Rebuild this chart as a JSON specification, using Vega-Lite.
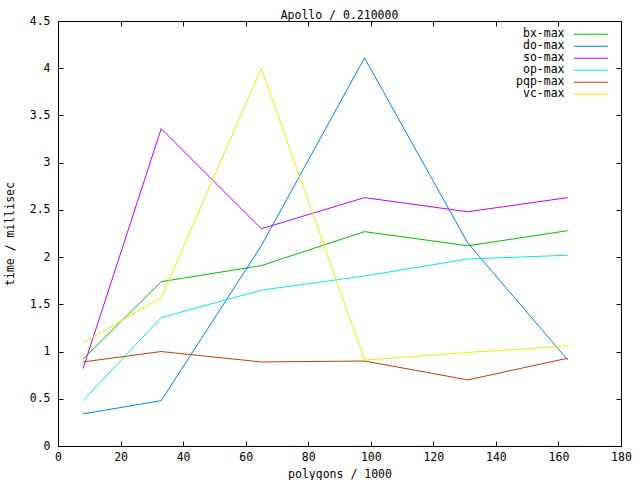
{
  "$schema": "https://vega.github.io/schema/vega-lite/v6.json",
  "width": 563,
  "height": 425,
  "autosize": {"type": "none"},
  "padding": {"left": 58, "top": 21, "right": 19, "bottom": 34},
  "background": "white",
  "config": {
    "font": "DejaVu Sans Mono",
    "view": {"stroke": "black", "strokeWidth": 1},
    "axis": {
      "grid": false,
      "domain": false,
      "offset": -5,
      "ticks": true,
      "tickColor": "black",
      "tickOpacity": 1,
      "tickWidth": 1,
      "tickSize": 5,
      "zindex": 1,
      "labelFont": "DejaVu Sans Mono",
      "labelFontSize": 11.5,
      "labelColor": "black",
      "titleFont": "DejaVu Sans Mono",
      "titleFontSize": 11.5,
      "titleFontWeight": "normal",
      "titleColor": "black"
    }
  },
  "title": {
    "text": "Apollo / 0.210000",
    "font": "DejaVu Sans Mono",
    "fontSize": 11.5,
    "fontWeight": "normal",
    "color": "black",
    "offset": -6
  },
  "data": {
    "values": [
      {"polygons": 8, "series": "bx-max", "time": 0.92},
      {"polygons": 33, "series": "bx-max", "time": 1.74},
      {"polygons": 65, "series": "bx-max", "time": 1.91},
      {"polygons": 98, "series": "bx-max", "time": 2.27},
      {"polygons": 131, "series": "bx-max", "time": 2.12},
      {"polygons": 163, "series": "bx-max", "time": 2.28},
      {"polygons": 8, "series": "do-max", "time": 0.34},
      {"polygons": 33, "series": "do-max", "time": 0.48},
      {"polygons": 65, "series": "do-max", "time": 2.12},
      {"polygons": 98, "series": "do-max", "time": 4.11},
      {"polygons": 131, "series": "do-max", "time": 2.15},
      {"polygons": 163, "series": "do-max", "time": 0.91},
      {"polygons": 8, "series": "so-max", "time": 0.82},
      {"polygons": 33, "series": "so-max", "time": 3.36},
      {"polygons": 65, "series": "so-max", "time": 2.3},
      {"polygons": 98, "series": "so-max", "time": 2.63},
      {"polygons": 131, "series": "so-max", "time": 2.48},
      {"polygons": 163, "series": "so-max", "time": 2.63},
      {"polygons": 8, "series": "op-max", "time": 0.48},
      {"polygons": 33, "series": "op-max", "time": 1.36},
      {"polygons": 65, "series": "op-max", "time": 1.65},
      {"polygons": 98, "series": "op-max", "time": 1.8},
      {"polygons": 131, "series": "op-max", "time": 1.98},
      {"polygons": 163, "series": "op-max", "time": 2.02},
      {"polygons": 8, "series": "pqp-max", "time": 0.89},
      {"polygons": 33, "series": "pqp-max", "time": 1.0},
      {"polygons": 65, "series": "pqp-max", "time": 0.89},
      {"polygons": 98, "series": "pqp-max", "time": 0.9},
      {"polygons": 131, "series": "pqp-max", "time": 0.7},
      {"polygons": 163, "series": "pqp-max", "time": 0.93},
      {"polygons": 8, "series": "vc-max", "time": 1.09},
      {"polygons": 33, "series": "vc-max", "time": 1.57},
      {"polygons": 65, "series": "vc-max", "time": 4.0},
      {"polygons": 98, "series": "vc-max", "time": 0.91},
      {"polygons": 131, "series": "vc-max", "time": 0.99},
      {"polygons": 163, "series": "vc-max", "time": 1.06}
    ]
  },
  "layer": [
    {
      "mark": {"type": "line", "strokeWidth": 1},
      "encoding": {
        "x": {
          "field": "polygons",
          "type": "quantitative",
          "scale": {"domain": [0, 180], "nice": false},
          "axis": {"orient": "bottom", "title": "polygons / 1000", "values": [0,20,40,60,80,100,120,140,160,180], "labelPadding": 5, "titlePadding": 6, "labelFlush": false}
        },
        "y": {
          "field": "time",
          "type": "quantitative",
          "scale": {"domain": [0, 4.5], "nice": false},
          "axis": {"orient": "left", "title": "time / millisec", "format": "~g", "values": [0,0.5,1,1.5,2,2.5,3,3.5,4,4.5], "labelPadding": 8, "titlePadding": 14, "labelFlush": false}
        },
        "color": {
          "field": "series",
          "type": "nominal",
          "scale": {
            "domain": ["bx-max", "do-max", "so-max", "op-max", "pqp-max", "vc-max"],
            "range": ["#00c000", "#0080ff", "#c000ff", "#00eeee", "#c04000", "#eeee00"]
          },
          "legend": {
            "title": null,
            "orient": "none",
            "legendX": 527,
            "legendY": 7.5,
            "padding": 0,
            "symbolType": "M-8.5,0H8.5",
            "symbolSize": 16,
            "symbolStrokeWidth": 1,
            "symbolOffset": 0,
            "labelAlign": "right",
            "labelOffset": -32,
            "labelFont": "DejaVu Sans Mono",
            "labelFontSize": 11.5,
            "labelColor": "black",
            "rowPadding": -1.4
          }
        }
      }
    },
    {
      "mark": {"type": "line", "opacity": 0},
      "encoding": {
        "x": {
          "field": "polygons",
          "type": "quantitative",
          "axis": {"orient": "top", "title": null, "labels": false, "values": [0,20,40,60,80,100,120,140,160,180]}
        },
        "y": {
          "field": "time",
          "type": "quantitative",
          "axis": {"orient": "right", "title": null, "labels": false, "values": [0,0.5,1,1.5,2,2.5,3,3.5,4,4.5]}
        },
        "detail": {"field": "series"}
      }
    }
  ],
  "resolve": {"axis": {"x": "independent", "y": "independent"}}
}
